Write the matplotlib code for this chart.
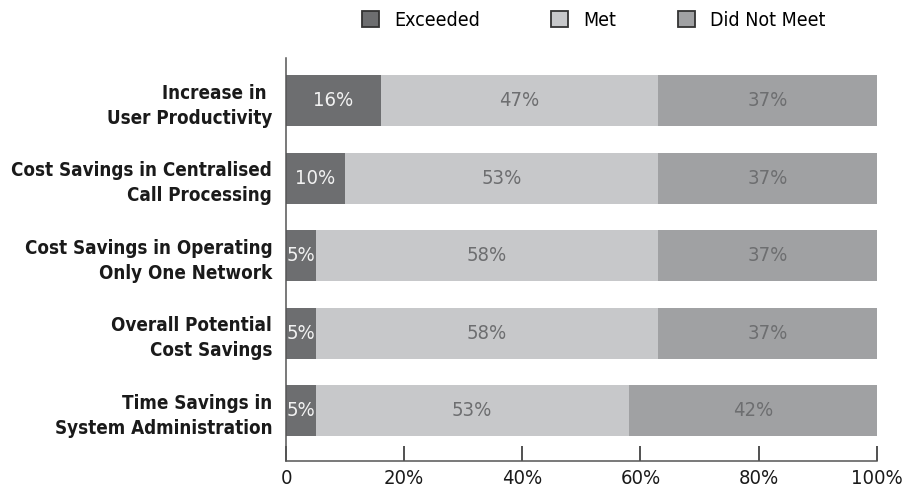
import matplotlib.pyplot as plt
from matplotlib import font_manager
from matplotlib.patches import Patch
import numpy as np

# look for a narrow sans; note which narrow families also ship a bold cut
narrow = {}
for f in font_manager.fontManager.ttflist:
    if f.stretch in ('condensed', 'semi-condensed', 'extra-condensed') \
            or 'Narrow' in f.name or 'Condensed' in f.name:
        w = f.weight if isinstance(f.weight, int) else font_manager.weight_dict.get(f.weight, 400)
        narrow.setdefault(f.name, set()).add(w)

with_bold = [n for n, ws in narrow.items() if max(ws) >= 600 and min(ws) <= 500]
if with_bold:
    text_family = label_family = with_bold[0]
elif narrow:
    text_family = sorted(narrow)[0]
    label_family = 'Roboto'
else:
    text_family = label_family = 'Roboto'

plt.rcParams['font.family'] = [text_family, 'DejaVu Sans']
plt.rcParams['font.stretch'] = 'condensed'

categories = [
    "Increase in \nUser Productivity",
    "Cost Savings in Centralised\nCall Processing",
    "Cost Savings in Operating\nOnly One Network",
    "Overall Potential\nCost Savings",
    "Time Savings in\nSystem Administration",
]
exceeded = [16, 10, 5, 5, 5]
met = [47, 53, 58, 58, 53]
did_not_meet = [37, 37, 37, 37, 42]

series = ["Exceeded", "Met", "Did Not Meet"]
colors = ["#6d6e70", "#c7c8ca", "#a0a1a3"]
text_colors = ["#f2f2f2", "#6d6e70", "#6d6e70"]

fig = plt.figure(figsize=(9.04, 4.94), dpi=100)
ax = fig.add_axes([0.3164, 0.0668, 0.6535, 0.8158])

y = np.arange(len(categories))[::-1]
left = np.zeros(len(categories))
for values, color, tcolor in zip([exceeded, met, did_not_meet], colors, text_colors):
    vals = np.array(values, dtype=float)
    ax.barh(y, vals, left=left, height=0.66, color=color, edgecolor='none')
    for yi, l, v in zip(y, left, vals):
        ax.text(l + v / 2, yi, "%d%%" % v, ha='center', va='center',
                fontsize=14.5, color=tcolor)
    left += vals

ax.set_xlim(0, 100)
ax.set_ylim(-0.65, 4.55)
ax.set_yticks(y)
ax.set_yticklabels(categories, fontsize=13.5, fontweight='bold', color='#1a1a1a',
                   family=[label_family, 'DejaVu Sans'], linespacing=1.4)
ax.set_xticks([0, 20, 40, 60, 80, 100])
ax.set_xticklabels(["0", "20%", "40%", "60%", "80%", "100%"], fontsize=14.5,
                   color='#1a1a1a')
ax.tick_params(axis='y', length=0, pad=10)
ax.tick_params(axis='x', direction='in', length=11, width=1.2, color='#333333', pad=6)
for side in ['top', 'right']:
    ax.spines[side].set_visible(False)
for side in ['left', 'bottom']:
    ax.spines[side].set_color('#555555')
    ax.spines[side].set_linewidth(1.1)

# one legend entry per series, placed along the top
legend_x = [362, 551, 678]
for name, color, px in zip(series, colors, legend_x):
    handle = Patch(facecolor=color, edgecolor='#333333', linewidth=1.3)
    fig.legend([handle], [name], loc='center left', bbox_to_anchor=(px / 904, 0.9595),
               frameon=False, fontsize=14, handlelength=0.85, handleheight=0.85,
               handletextpad=0.8, borderpad=0, borderaxespad=0)

fig.savefig('out.png', dpi=100)
